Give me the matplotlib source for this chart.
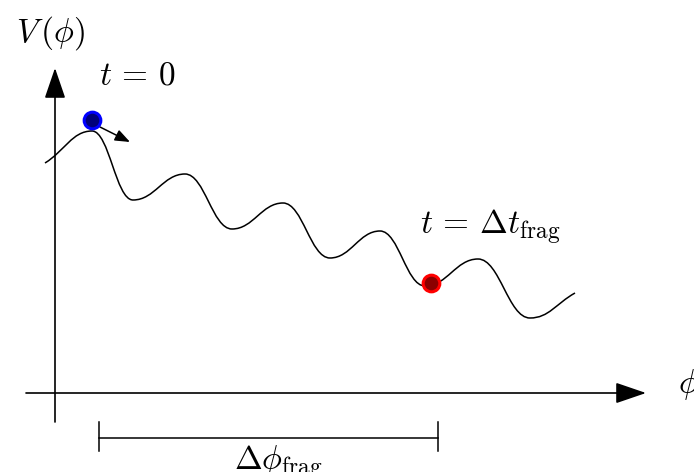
import matplotlib.pyplot as plt
from matplotlib.path import Path
from matplotlib.patches import PathPatch

plt.rcParams["mathtext.fontset"] = "cm"

# --- Schematic potential: turning points of V(phi) ---
# origin is where the two axes cross
phi_nodes = [-10, 37, 78, 130, 177, 228, 275, 325, 370, 423, 475, 520]
v_nodes   = [230, 262, 193, 219, 164, 190, 135, 162, 107, 134, 75, 100]

# particle positions
start_phi, start_v = 37, 273      # t = 0
end_phi, end_v     = 376, 110     # t = Delta t_frag

# bracket for Delta phi_frag
frag_lo, frag_hi = 44, 383

# --- Figure: one axes filling the canvas ---
fig = plt.figure(figsize=(6.94, 4.72), dpi=100)
ax = fig.add_axes([0, 0, 1, 1])
ax.set_xlim(-55, 639)
ax.set_ylim(-79, 393)
ax.axis("off")

# smooth curve: cubic Bezier segments, flat tangents at interior turning points
n = len(phi_nodes)
slopes = [0.0] * n
slopes[0] = 0.9 * (v_nodes[1] - v_nodes[0]) / (phi_nodes[1] - phi_nodes[0])
slopes[-1] = (v_nodes[-1] - v_nodes[-2]) / (phi_nodes[-1] - phi_nodes[-2])
verts = [(phi_nodes[0], v_nodes[0])]
codes = [Path.MOVETO]
for i in range(n - 1):
    x0, y0, x1, y1 = phi_nodes[i], v_nodes[i], phi_nodes[i + 1], v_nodes[i + 1]
    d = 0.42 * (x1 - x0)
    verts += [(x0 + d, y0 + slopes[i] * d), (x1 - d, y1 - slopes[i + 1] * d), (x1, y1)]
    codes += [Path.CURVE4] * 3
ax.add_patch(PathPatch(Path(verts, codes), fill=False, lw=1.1, color="black", zorder=2))

# axes with arrow heads
arrow = dict(arrowstyle="-|>,head_length=1.9,head_width=0.65", mutation_scale=10,
             lw=1.2, color="black", shrinkA=0, shrinkB=0)
ax.annotate("", xy=(591, 0), xytext=(-29, 0), arrowprops=arrow)
ax.annotate("", xy=(0, 325), xytext=(0, -29), arrowprops=arrow)

# particles
ax.plot(start_phi, start_v, "o", ms=12, mfc="#00007a", mec="#0000ff", mew=2.2, zorder=4)
ax.plot(end_phi, end_v, "o", ms=12, mfc="#8b0000", mec="#ff0000", mew=2.2, zorder=4)
ax.annotate("", xy=(start_phi + 38, start_v - 22), xytext=(start_phi + 8, start_v - 7),
            arrowprops=dict(arrowstyle="-|>,head_length=0.9,head_width=0.35",
                            mutation_scale=10, lw=1.1, color="black",
                            shrinkA=0, shrinkB=0))

# bracket
ax.plot([frag_lo, frag_hi], [-45, -45], color="black", lw=1.1)
ax.plot([frag_lo, frag_lo], [-29, -58], color="black", lw=1.1)
ax.plot([frag_hi, frag_hi], [-29, -58], color="black", lw=1.1)

# labels
fs = 24
ax.text(-5, 360, r"$V\,(\phi)$", fontsize=fs, ha="center", va="center")
ax.text(634, 8, r"$\phi$", fontsize=fs, ha="center", va="center")
ax.text(82, 318, r"$t\,=\,0$", fontsize=fs, ha="center", va="center")
ax.text(435, 166, r"$t\,=\,\Delta t_{\rm frag}$", fontsize=fs, ha="center", va="center")
ax.text(223, -70, r"$\Delta\phi_{\rm frag}$", fontsize=fs, ha="center", va="center")

plt.savefig("out.png", dpi=100)
